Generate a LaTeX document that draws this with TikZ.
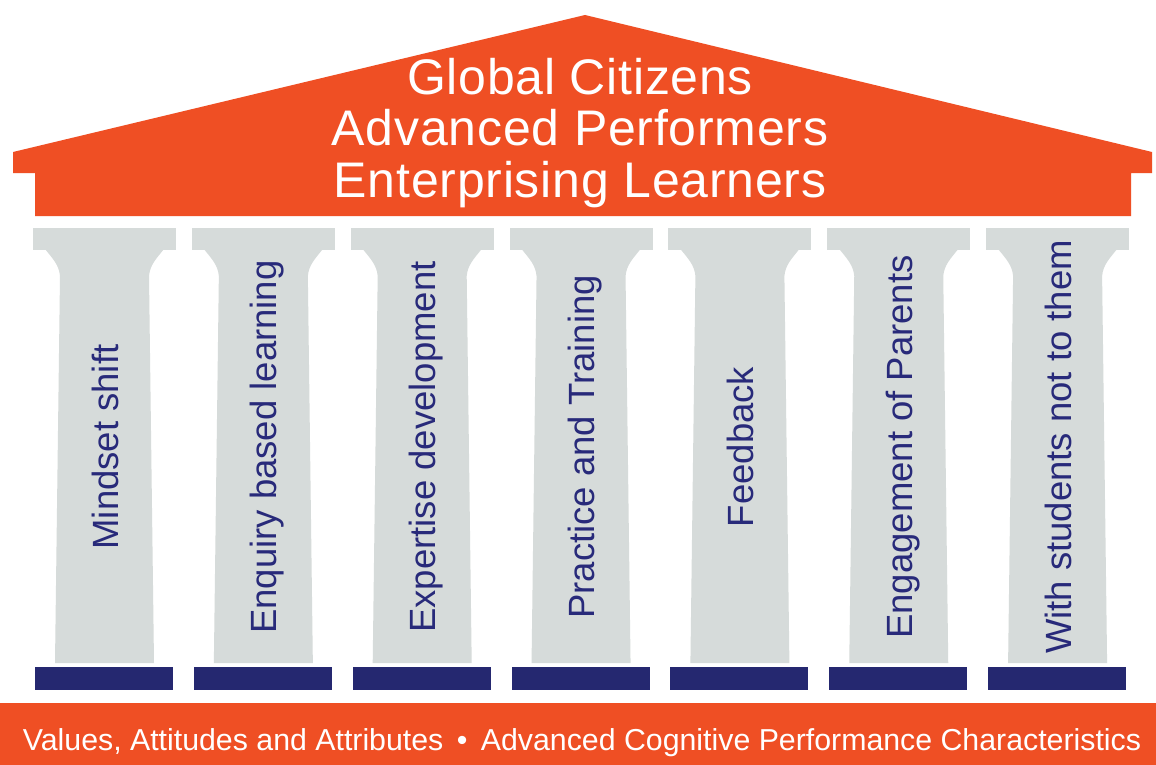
\documentclass[tikz,border=0pt]{standalone}
\usepackage{fontspec}
\setmainfont{Liberation Sans}
\newfontfamily\rooffont[LetterSpace=1.5]{Liberation Sans}
\definecolor{roofor}{RGB}{239,79,36}
\definecolor{pillgrey}{RGB}{214,219,218}
\definecolor{basenavy}{RGB}{37,40,112}
\definecolor{textnavy}{RGB}{40,42,122}
\tikzset{
  rooffill/.style={fill=roofor},
  pillar/.style={fill=pillgrey},
  basebar/.style={fill=basenavy},
  rooftext/.style={text=white, font=\rooffont\fontsize{50}{51}\selectfont, anchor=base, inner sep=0pt},
  pillartext/.style={text=textnavy, font=\fontsize{36.5}{37}\selectfont, anchor=base, rotate=90, inner sep=0pt},
  bandtext/.style={text=white, font=\fontsize{30.3}{31}\selectfont, anchor=base, inner sep=0pt}
}
\begin{document}
\begin{tikzpicture}[x=1pt, y=-1pt]
\useasboundingbox (0,0) rectangle (1156,765);
\fill[white] (0,0) rectangle (1156,765);
% roof
\fill[rooffill] (13,152) -- (585,15) -- (1152,152) -- (1152,173) -- (1131,173)
  -- (1131,216) -- (35,216) -- (35,173) -- (13,173) -- cycle;
\node[rooftext] (l1) at (580,95) {Global Citizens};
\node[rooftext] (l2) at (580,146) {Advanced Performers};
\node[rooftext] (l3) at (580,197) {Enterprising Learners};
% pillars
\foreach \i/\t in {0/Mindset shift, 1/Enquiry based learning, 2/Expertise development,
  3/Practice and Training, 4/Feedback, 5/Engagement of Parents, 6/With students not to them}{
  \begin{scope}[xshift=\i*158.85pt]
    \fill[pillar] (33,228) rectangle (176,250);
    \fill[pillar] (45,249) .. controls (53,259) and (59,265) .. (60,276) -- (55,663)
      -- (154,663) -- (149,276) .. controls (150,265) and (156,259) .. (164,249) -- cycle;
    \fill[basebar] (35,667) rectangle (173,690);
    \node[pillartext] (p\i) at (118,447) {\t};
  \end{scope}
}
% bottom band
\fill[rooffill] (0,703) rectangle (1156,765);
\node[bandtext] (band) at (582,750) {Values, Attitudes and Attributes \,\textbullet\, Advanced Cognitive Performance Characteristics};
\end{tikzpicture}
\end{document}
